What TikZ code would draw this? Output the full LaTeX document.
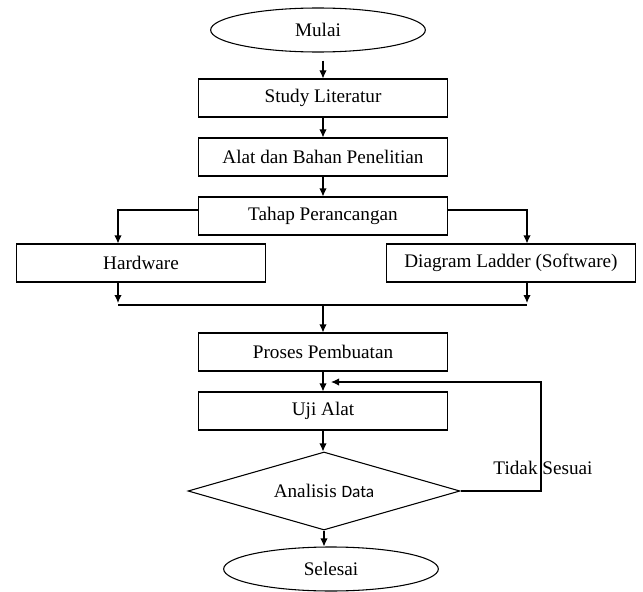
\documentclass[tikz,border=0pt]{standalone}
\usepackage{fontspec}
\setmainfont{Liberation Serif}
\newfontfamily\calibrifont{Carlito}
\usetikzlibrary{shapes.geometric, arrows.meta}

\begin{document}
\begin{tikzpicture}[x=0.75pt, y=-0.75pt,
			kotak/.style={draw, minimum width=187pt, minimum height=28.5pt, line width=0.8pt, font=\fontsize{14.4}{17}\selectfont},
			oval/.style={draw, ellipse, minimum width=161pt, minimum height=33pt, line width=0.8pt, font=\fontsize{14.4}{17}\selectfont},
			panah/.style={-{Latex[length=6pt, width=5.5pt]}, line width=0.8pt},
			garis/.style={line width=0.8pt}
		]
		\useasboundingbox (0,0) rectangle (643,592);

		\node[oval] (mulai) at (318,30) {Mulai};
		\node[kotak] (study) at (323,98) {Study Literatur};
		\node[kotak] (alat) at (323,157) {Alat dan Bahan Penelitian};
		\node[kotak] (tahap) at (323,216) {Tahap Perancangan};
		\node[kotak] (hardware) at (141,263) {Hardware};
		\node[kotak] (ladder) at (511,263) {Diagram Ladder (Software)};
		\node[kotak] (proses) at (323,352) {Proses Pembuatan};
		\node[kotak] (uji) at (323,411) {Uji Alat};
		\node[draw, diamond, aspect=3.5, minimum width=204pt, minimum height=58.5pt, inner sep=0pt, line width=0.8pt, font=\fontsize{14.4}{17}\selectfont] (analisis) at (324,491) {Analisis {\calibrifont\fontsize{13}{15}\selectfont Data}};
		\node[oval] (selesai) at (331,569) {Selesai};

		\coordinate (cabangkiri) at (118,210);
		\coordinate (cabangkanan) at (527,210);
		\coordinate (hwbawah) at (118,282);
		\coordinate (ldbawah) at (527,282);
		\coordinate (gabungkiri) at (118,305);
		\coordinate (gabungkanan) at (527,305);
		\coordinate (gabung) at (323,305);
		\coordinate (balik) at (541,382);
		\coordinate (masuk) at (331,382);

		\draw[panah] ([xshift=3.75pt, yshift=-6pt]mulai.south) -- (study.north);
		\draw[panah] (study.south) -- (alat.north);
		\draw[panah] (alat.south) -- (tahap.north);

		% percabangan hardware / software
		\draw[panah] (tahap.west |- cabangkiri) -- (cabangkiri) -- (hardware.north -| cabangkiri);
		\draw[panah] (tahap.east |- cabangkanan) -- (cabangkanan) -- (ladder.north -| cabangkanan);
		\draw[panah] (hwbawah) -- ([yshift=1.5pt]gabungkiri);
		\draw[panah] (ldbawah) -- ([yshift=1.5pt]gabungkanan);
		\draw[garis] (gabungkiri) -- (gabungkanan);
		\draw[panah] (gabung) -- (proses.north);

		\draw[panah] (proses.south) -- (uji.north);
		\draw[panah] (uji.south) -- (uji.south |- analisis.north);
		\draw[panah] (analisis.south) -- (analisis.south |- selesai.north);

		% umpan balik
		\draw[panah] (analisis.east) -- (analisis.east -| balik) -- (balik) -- (masuk);
		\node[font=\fontsize{14.4}{17}\selectfont] (tidak) at (543,468) {Tidak Sesuai};
	\end{tikzpicture}
\end{document}
